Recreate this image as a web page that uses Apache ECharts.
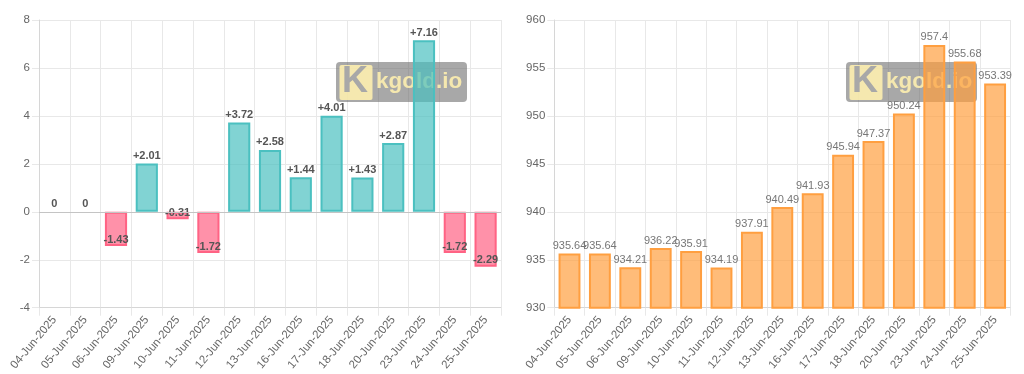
<!DOCTYPE html>
<html>
<head>
<meta charset="utf-8">
<script src="https://cdn.jsdelivr.net/npm/echarts@6/dist/echarts.min.js"></script>
<style>
html,body{margin:0;padding:0;background:#fff;}
#c{width:1024px;height:374px;}
</style>
</head>
<body>
<div id="c"></div>
<script>
const categories = ['04-Jun-2025','05-Jun-2025','06-Jun-2025','09-Jun-2025','10-Jun-2025','11-Jun-2025','12-Jun-2025','13-Jun-2025','16-Jun-2025','17-Jun-2025','18-Jun-2025','20-Jun-2025','23-Jun-2025','24-Jun-2025','25-Jun-2025'];
const changes = [0, 0, -1.43, 2.01, -0.31, -1.72, 3.72, 2.58, 1.44, 4.01, 1.43, 2.87, 7.16, -1.72, -2.29];
const prices = [935.64, 935.64, 934.21, 936.22, 935.91, 934.19, 937.91, 940.49, 941.93, 945.94, 947.37, 950.24, 957.4, 955.68, 953.39];
const leftTicks = { min: -4, max: 8, interval: 2 };
const rightTicks = { min: 930, max: 960, interval: 5 };

const FONT = "'Liberation Sans', Arial, Helvetica, sans-serif";
const GRID_COLOR = '#e8e8e8';
const AXIS_COLOR = '#d6d6d6';

const chart = echarts.init(document.getElementById('c'), null, { renderer: 'canvas' });

function xAxis(gridIndex) {
  return {
    type: 'category', gridIndex, data: categories, boundaryGap: true,
    axisLine: { show: true, onZero: false, lineStyle: { color: AXIS_COLOR, width: 1 } },
    axisTick: { show: true, length: 8, lineStyle: { color: GRID_COLOR } },
    splitLine: { show: true, lineStyle: { color: GRID_COLOR } },
    axisLabel: { rotate: 50, margin: 10, color: '#666', fontSize: 11.5, fontFamily: FONT, interval: 0 }
  };
}
function yAxis(gridIndex, t) {
  return {
    type: 'value', gridIndex, min: t.min, max: t.max, interval: t.interval,
    axisLine: { show: true, lineStyle: { color: AXIS_COLOR, width: 1 } },
    axisTick: { show: true, length: 7, lineStyle: { color: GRID_COLOR } },
    splitLine: { show: true, lineStyle: { color: GRID_COLOR } },
    axisLabel: { margin: 9, color: '#666', fontSize: 11.5, fontFamily: FONT }
  };
}

const changeData = changes.map(v => ({
  value: v,
  itemStyle: v > 0
    ? { color: 'rgba(75,192,192,0.7)', borderColor: 'rgb(75,192,192)', borderWidth: 2 }
    : v < 0
      ? { color: 'rgba(255,99,132,0.7)', borderColor: 'rgb(255,99,132)', borderWidth: 2 }
      : { color: 'rgba(75,192,192,0.7)', borderWidth: 0 },
  label: { position: v < 0 ? 'insideBottom' : 'top', distance: v < 0 ? 1 : 2 }
}));

function watermark(x) {
  return [
    { type: 'rect', left: x, top: 62, z: 1, shape: { width: 131, height: 40, r: 4 }, style: { fill: 'rgba(100,100,100,0.56)' } },
    { type: 'rect', left: x + 3.5, top: 65, z: 1, shape: { width: 33, height: 35, r: 2 }, style: { fill: 'rgba(255,240,175,0.88)' } },
    { type: 'text', left: x + 6, top: 64, z: 1, style: { text: 'K', fill: '#a8a8a8', font: "bold 36px " + FONT } },
    { type: 'text', left: x + 40, top: 70, z: 1, style: { text: 'kgold.io', fill: 'rgba(255,240,175,0.88)', font: "bold 22.5px " + FONT } }
  ];
}

const option = {
  animation: false,
  textStyle: { fontFamily: FONT },
  grid: [
    { left: 39, top: 20, width: 462, height: 287.7 },
    { left: 554.3, top: 20, width: 456, height: 287.7 }
  ],
  xAxis: [xAxis(0), xAxis(1)],
  yAxis: [yAxis(0, leftTicks), yAxis(1, rightTicks)],
  graphic: { elements: [...watermark(336), ...watermark(846)] },
  series: [
    {
      type: 'bar', xAxisIndex: 0, yAxisIndex: 0, barWidth: '72%', z: 3,
      data: changeData,
      label: {
        show: true, color: '#555', fontWeight: 'bold', fontSize: 11, fontFamily: FONT,
        formatter: p => p.value > 0 ? '+' + p.value : String(p.value)
      },
      markLine: {
        silent: true, symbol: ['none', 'none'], label: { show: false },
        lineStyle: { color: '#c4c4c4', type: 'solid', width: 1 },
        data: [{ yAxis: 0 }]
      }
    },
    {
      type: 'bar', xAxisIndex: 1, yAxisIndex: 1, barWidth: '72%', z: 3,
      data: prices,
      itemStyle: { color: 'rgba(255,159,64,0.7)', borderColor: 'rgb(255,159,64)', borderWidth: 2 },
      label: { show: true, position: 'top', distance: 2, color: '#777', fontSize: 11, fontFamily: FONT }
    }
  ]
};
chart.setOption(option);
</script>
</body>
</html>
